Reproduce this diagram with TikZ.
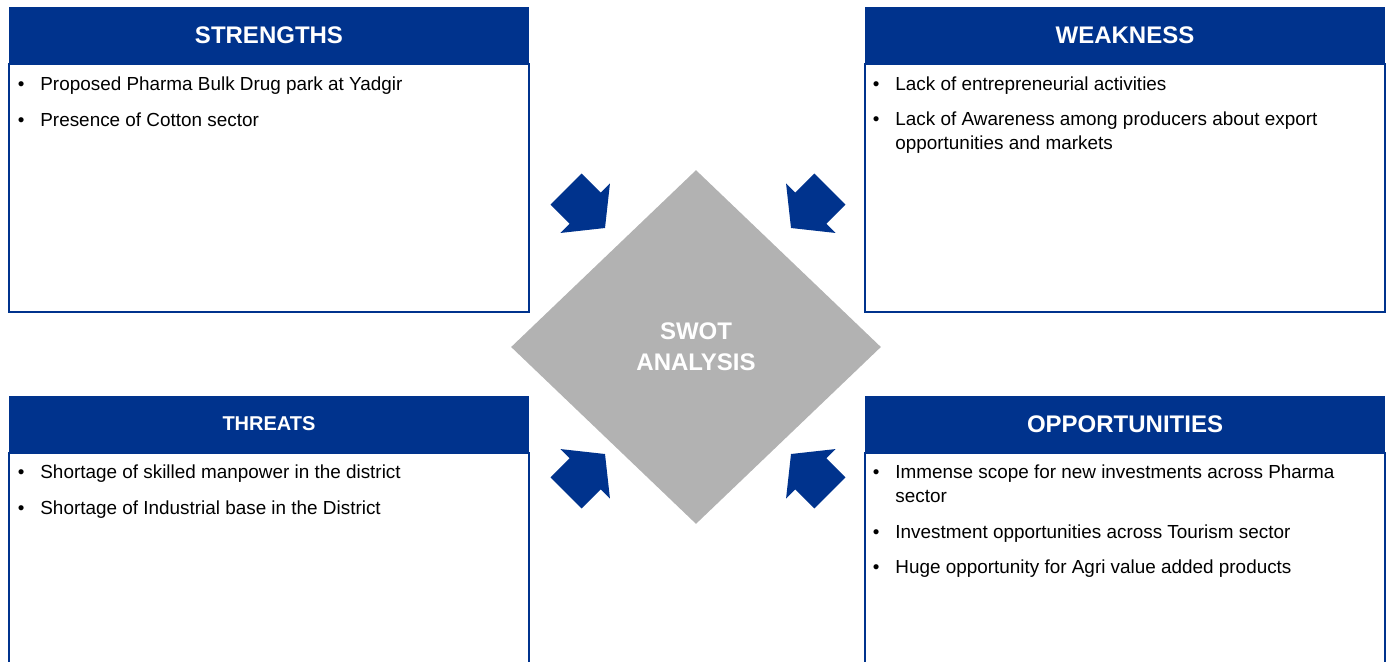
\documentclass[tikz,border=0pt]{standalone}
\usepackage{fontspec}
\setmainfont{Liberation Sans}
\usetikzlibrary{shapes.geometric, positioning}
\definecolor{swotblue}{RGB}{0,51,141}
\definecolor{swotgray}{RGB}{178,178,178}
\newcommand{\swotbullet}{\llap{\textbullet\hspace{8pt}}}

\begin{document}
\begin{tikzpicture}[x=0.5pt, y=-0.5pt,
    header/.style = {fill=swotblue, text=white, inner sep=0pt,
        font=\bfseries\fontsize{12}{14}\selectfont,
        minimum width=260pt, minimum height=28pt},
    bodybox/.style = {draw=swotblue, line width=0.6pt, inner sep=0pt,
        minimum width=260pt},
    entry/.style = {anchor=base west, inner sep=0pt, align=left,
        font=\fontsize{9.45}{12}\selectfont}]
    \useasboundingbox (0,0) rectangle (1387,661);
    \clip (0,0) rectangle (1387,661);

    % the four boxes
    \node[header] (shead) at (269,35) {STRENGTHS};
    \node[bodybox, minimum height=124pt, below=0pt of shead] (sbody) {};
    \node[header] (whead) at (1125,35) {WEAKNESS};
    \node[bodybox, minimum height=124pt, below=0pt of whead] (wbody) {};
    \node[header, font=\bfseries\fontsize{10}{12}\selectfont] (thead) at (269,424) {THREATS};
    \node[bodybox, minimum height=116pt, below=0pt of thead] (tbody) {};
    \node[header] (ohead) at (1125,424) {OPPORTUNITIES};
    \node[bodybox, minimum height=116pt, below=0pt of ohead] (obody) {};

    % entries (base = last line)
    \node[entry] (s1) at (40,90) {\swotbullet Proposed Pharma Bulk Drug park at Yadgir};
    \node[entry] (s2) at (40,126) {\swotbullet Presence of Cotton sector};
    \node[entry] (w1) at (895,90) {\swotbullet Lack of entrepreneurial activities};
    \node[entry] (w2) at (895,149) {\swotbullet Lack of Awareness among producers about export\\opportunities and markets};
    \node[entry] (t1) at (40,478) {\swotbullet Shortage of skilled manpower in the district};
    \node[entry] (t2) at (40,514) {\swotbullet Shortage of Industrial base in the District};
    \node[entry] (o1) at (895,502) {\swotbullet Immense scope for new investments across Pharma\\sector};
    \node[entry] (o2) at (895,538) {\swotbullet Investment opportunities across Tourism sector};
    \node[entry] (o3) at (895,573) {\swotbullet Huge opportunity for Agri value added products};

    % centre
    \node[diamond, fill=swotgray, minimum width=185pt, minimum height=177pt,
        inner sep=0pt, text=white, align=center,
        font=\bfseries\fontsize{12}{15.5}\selectfont] (swot) at (696,347) {SWOT\\ANALYSIS};

    \foreach \tx/\ty/\ang in {605/228/-45, 791/228/-135, 605/454/45, 791/454/135}
        \fill[swotblue, shift={(\tx,\ty)}, rotate=\ang] (0,0) -- (-28,35) -- (-28,22)
            -- (-55,22) -- (-55,-22) -- (-28,-22) -- (-28,-35) -- cycle;

\end{tikzpicture}
\end{document}
